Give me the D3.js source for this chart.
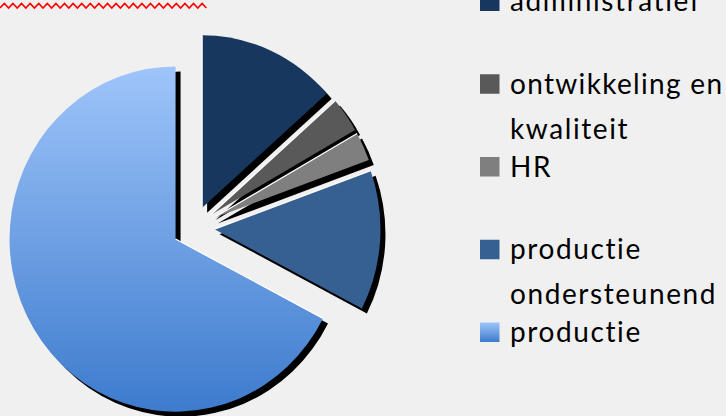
<!DOCTYPE html>
<html><head><meta charset="utf-8">
<script src="https://cdn.jsdelivr.net/npm/d3@7"></script>
<style>html,body{margin:0;padding:0;background:#f0f0f0;overflow:hidden}</style>
</head><body>
<script>
const categories = ["administratief","ontwikkeling en kwaliteit","HR","productie ondersteunend","productie"];
const values = [13.5, 3.3, 2.7, 13.1, 67.4];
const legendLines = [["administratief"],["ontwikkeling en","kwaliteit"],["HR"],["productie","ondersteunend"],["productie"]];
const colors = ["#17375e","#595959","#7f7f7f","#366092","url(#gradProd)"];

const W = 726, H = 416;
const svg = d3.select("body").append("svg").attr("width", W).attr("height", H);
svg.append("rect").attr("width", W).attr("height", H).attr("fill", "#f0f0f0");

const defs = svg.append("defs");
const gp = defs.append("linearGradient").attr("id","gradProd").attr("x1",0).attr("y1",0).attr("x2",0).attr("y2",1);
gp.append("stop").attr("offset","0%").attr("stop-color","#9fc5fa");
gp.append("stop").attr("offset","100%").attr("stop-color","#3d7bcd");

// spell-check squiggle under (cut off) title
let zz = [];
for (let x = 0, i = 0; x <= 208; x += 4.3, i++) zz.push([x, i % 2 ? 3.4 : 8.0]);
svg.append("path").attr("d", d3.line()(zz)).attr("fill","none").attr("stroke","#ff0000").attr("stroke-width",1.6);

const cx = 193.5, cy = 227.7, r = 166, sy = 1.04, explode = 21;
const pie = d3.pie().sort(null).value(d => d);
const arcs = pie(values);
const arc = d3.arc().innerRadius(0).outerRadius(r);
const off = a => { const m = (a.startAngle + a.endAngle) / 2; return [explode * Math.sin(m), -explode * Math.cos(m)]; };

// shadows
const gs = svg.append("g").attr("transform", `translate(5,5)`)
  .append("g").attr("transform", `translate(${cx},${cy}) scale(1,${sy})`);
gs.selectAll("path").data(arcs).join("path")
  .attr("transform", d => `translate(${off(d)})`)
  .attr("d", arc).attr("fill", "#000");

// slices
const g = svg.append("g").attr("transform", `translate(${cx},${cy}) scale(1,${sy})`);
const sl = g.selectAll("g.s").data(arcs).join("g").attr("class","s")
  .attr("transform", d => `translate(${off(d)})`);
sl.append("path").attr("d", arc).attr("fill", (d,i) => colors[i]);
sl.append("line")
  .attr("x1", 0).attr("y1", 0)
  .attr("x2", d => r * Math.sin(d.startAngle)).attr("y2", d => -r * Math.cos(d.startAngle))
  .attr("stroke", "#fff").attr("stroke-width", 1.2).attr("vector-effect","non-scaling-stroke");

// legend
const lg = svg.append("g");
const step = (342 - 11) / (categories.length - 1);
const textX = 510, maxRight = 722;
categories.forEach((c, i) => {
  const b = 11 + i * step;
  const it = lg.append("g");
  it.append("rect").attr("x", 480).attr("y", b - 19.5).attr("width", 19.5).attr("height", 19.5).attr("fill", colors[i]);
  legendLines[i].forEach((t, j) => {
    const tx = it.append("text").attr("x", textX).attr("y", b + j * 45)
      .attr("font-family", "Lato, 'Open Sans', sans-serif").attr("font-size", 28)
      .style("font-variant-ligatures", "none")
      .attr("letter-spacing", 1.6)
      .attr("fill", "#000").text(t);
    const len = tx.node().getComputedTextLength();
    if (textX + len > maxRight) {
      tx.attr("letter-spacing", null).attr("textLength", maxRight - textX).attr("lengthAdjust", "spacing");
    }
  });
});
</script>
</body></html>
